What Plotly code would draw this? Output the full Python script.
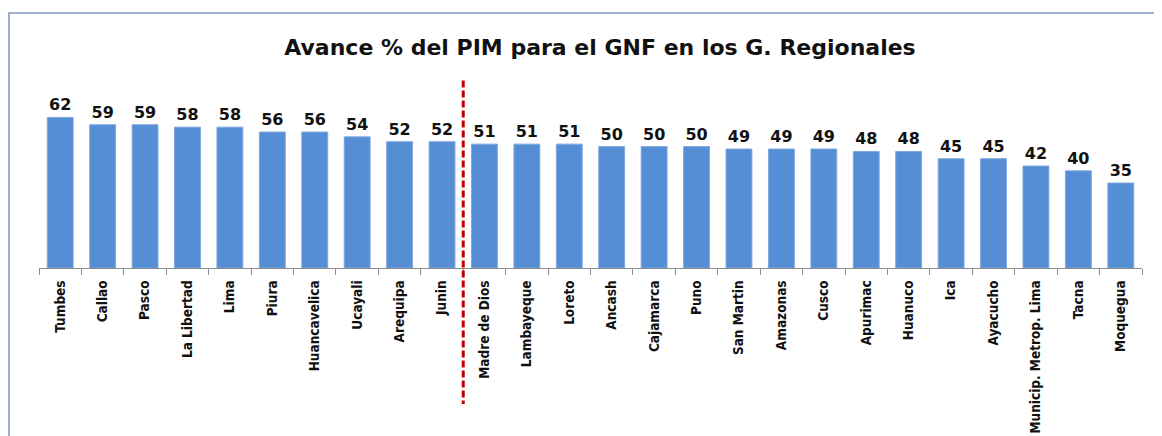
import plotly.graph_objects as go

regions = ["Tumbes", "Callao", "Pasco", "La Libertad", "Lima", "Piura", "Huancavelica",
           "Ucayali", "Arequipa", "Junin", "Madre de Dios", "Lambayeque", "Loreto",
           "Ancash", "Cajamarca", "Puno", "San Martin", "Amazonas", "Cusco", "Apurimac",
           "Huanuco", "Ica", "Ayacucho", "Municip. Metrop. Lima", "Tacna", "Moquegua"]
avance = [62, 59, 59, 58, 58, 56, 56, 54, 52, 52, 51, 51, 51, 50, 50, 50, 49, 49, 49,
          48, 48, 45, 45, 42, 40, 35]
title_text = "Avance % del PIM para el GNF en los G. Regionales"
split_after = "Junin"

OFF = 8  # page body margin
W, H = 1162 - OFF, 436 - OFF
L, R, T, B = 39 - OFF, 20, 97.5 - OFF, 167.7
plot_h = H - T - B
plot_w = W - L - R
BASE = 268.3  # page y of baseline

fig = go.Figure(go.Bar(
    x=regions, y=avance,
    marker=dict(color="#558ED5", line=dict(color="#7FA8DE", width=1)),
    width=0.61,
    text=avance, texttemplate="<b>%{text}</b>", textposition="outside",
    textfont=dict(family="DejaVu Sans, Verdana", size=16, color="#111111"),
    cliponaxis=False,
))

split_x = regions.index(split_after) + 0.5

fig.update_layout(
    width=W, height=H,
    margin=dict(l=L, r=R, t=T, b=B, autoexpand=False),
    paper_bgcolor="white", plot_bgcolor="white",
    showlegend=False,
    title=dict(text="<b>" + title_text + "</b>", x=(600 - OFF) / W, xanchor="center",
               y=1 - (47 - OFF) / H, yanchor="middle",
               font=dict(family="DejaVu Sans, Verdana", size=22, color="#111111")),
    xaxis=dict(
        type="category", tickangle=-90, tickson="boundaries",
        ticks="outside", ticklen=6, tickcolor="#8C8C8C", tickwidth=1,
        ticklabelstandoff=6,
        showline=True, linecolor="#8C8C8C", linewidth=1,
        showgrid=False, zeroline=False,
        tickfont=dict(family="DejaVu Sans Condensed, Liberation Sans Narrow, Arial Narrow", size=13.5,
                      color="#111111", weight="bold"),
        range=[-0.5, len(regions) - 0.5],
    ),
    yaxis=dict(range=[0, 70], visible=False, showgrid=False, zeroline=False),
    shapes=[
        dict(type="line", xref="x", yref="paper", x0=split_x, x1=split_x,
             y0=(BASE - 80) / plot_h, y1=(BASE - 405) / plot_h,
             line=dict(color="#C00000", width=3, dash="7px,3px")),
        dict(type="rect", xref="paper", yref="paper",
             x0=(9 - 39) / plot_w, x1=(1175 - 39) / plot_w,
             y0=(BASE - 450) / plot_h, y1=(BASE - 12) / plot_h,
             line=dict(color="#7F95B9", width=1.5), fillcolor="rgba(0,0,0,0)"),
    ],
)

fig.write_html("out.html")
